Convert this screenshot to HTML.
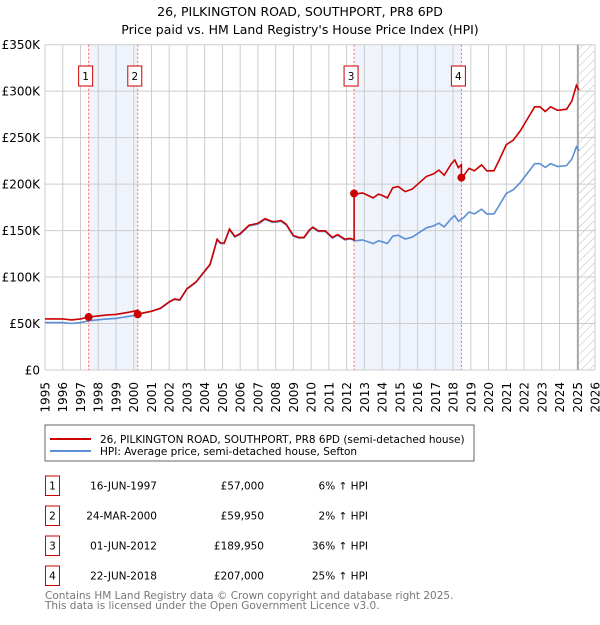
<!DOCTYPE html>
<html><head><meta charset="utf-8"><style>
body{margin:0;background:#fff;font-family:"Liberation Sans","DejaVu Sans",sans-serif;}
svg text{font-family:"DejaVu Sans","Liberation Sans",sans-serif;}
</style></head><body>
<svg id="c" width="600" height="620" viewBox="0 0 600 620" xmlns="http://www.w3.org/2000/svg">
<defs><pattern id="hatch" width="6" height="6" patternUnits="userSpaceOnUse" patternTransform="rotate(45)"><line x1="0" y1="0" x2="0" y2="6" stroke="#bbb" stroke-width="1"/></pattern></defs>
<text x="300" y="16" text-anchor="middle" font-size="12.5" fill="#000">26, PILKINGTON ROAD, SOUTHPORT, PR8 6PD</text>
<text x="300" y="34" text-anchor="middle" font-size="12.5" fill="#000">Price paid vs. HM Land Registry's House Price Index (HPI)</text>
<g id="plot"></g>
<rect x="45" y="425" width="429" height="36" fill="#fff" stroke="#666"/>
<line x1="50" y1="439" x2="91" y2="439" stroke="#cc0000" stroke-width="2"/>
<text x="100" y="443" font-size="10.5">26, PILKINGTON ROAD, SOUTHPORT, PR8 6PD (semi-detached house)</text>
<line x1="50" y1="451" x2="91" y2="451" stroke="#5b8fd6" stroke-width="2"/>
<text x="100" y="455" font-size="10.5">HPI: Average price, semi-detached house, Sefton</text>
<g id="table"></g>
<text x="45" y="599" font-size="10.5" fill="#777">Contains HM Land Registry data © Crown copyright and database right 2025.</text>
<text x="45" y="609" font-size="10.5" fill="#777">This data is licensed under the Open Government Licence v3.0.</text>
</svg>
<script>
const hpiDates=[1995.0,1995.5,1996.0,1996.5,1997.0,1997.5,1998.0,1998.5,1999.0,1999.5,2000.0,2000.5,2001.0,2001.5,2002.0,2002.3,2002.6,2003.0,2003.5,2004.0,2004.3,2004.5,2004.7,2004.9,2005.1,2005.4,2005.7,2006.0,2006.5,2007.0,2007.4,2007.8,2008.0,2008.3,2008.6,2009.0,2009.3,2009.6,2009.9,2010.1,2010.4,2010.8,2011.2,2011.5,2011.9,2012.2,2012.5,2012.9,2013.2,2013.5,2013.8,2014.0,2014.3,2014.6,2014.9,2015.3,2015.7,2016.1,2016.5,2016.9,2017.2,2017.5,2017.9,2018.1,2018.3,2018.6,2018.9,2019.2,2019.6,2019.9,2020.3,2020.6,2021.0,2021.4,2021.8,2022.2,2022.6,2022.9,2023.2,2023.5,2023.9,2024.4,2024.7,2024.95,2025.1];
const hpiValues=[51,51,51,50,51,53,54,55,55.5,57,58.5,61,63,66,73,76,75,87,94,106,113,126,140,136,136,151,143,146,155,157,162,159,159,160,156,144,142,142,150,153,149,149,142,145,140,141,139,140,138,136,139,138,136,144,145,141,143,148,153,155,158,154,163,166,160,164,170,168,173,168,168,177,190,194,202,212,222,222,218,222,219,220,227,240,236];
const saleDates=[1997.46,2000.23,2012.42,2018.47];
const salePrices=[57000,59950,189950,207000];
const saleLabels=["16-JUN-1997","24-MAR-2000","01-JUN-2012","22-JUN-2018"];
const salePriceText=["£57,000","£59,950","£189,950","£207,000"];
const salePctText=["6% ↑ HPI","2% ↑ HPI","36% ↑ HPI","25% ↑ HPI"];
const yTicks=[0,50,100,150,200,250,300,350];
const yTickLabels=["£0","£50K","£100K","£150K","£200K","£250K","£300K","£350K"];
const xYears=[1995,1996,1997,1998,1999,2000,2001,2002,2003,2004,2005,2006,2007,2008,2009,2010,2011,2012,2013,2014,2015,2016,2017,2018,2019,2020,2021,2022,2023,2024,2025,2026];

const NS="http://www.w3.org/2000/svg";
const X0=45,X1=595,Y0=370,Y1=44.7;
const sx=t=>X0+(t-1995)*(X1-X0)/31;
const sy=v=>Y0-v*(Y0-Y1)/350;
const plot=document.getElementById('plot');
function mk(tag,attrs,parent){const e=document.createElementNS(NS,tag);for(const k in attrs)e.setAttribute(k,attrs[k]);(parent||plot).appendChild(e);return e;}
function hpiAt(t){for(let i=1;i<hpiDates.length;i++){if(t<=hpiDates[i]){const f=(t-hpiDates[i-1])/(hpiDates[i]-hpiDates[i-1]);return hpiValues[i-1]+f*(hpiValues[i]-hpiValues[i-1]);}}return hpiValues[hpiValues.length-1];}

let bg=mk('rect',{x:X0,y:Y1,width:X1-X0,height:Y0-Y1,fill:'#fff'});

[[0,1],[2,3]].forEach((p,i)=>{const r=mk('rect',{x:sx(saleDates[p[0]]),y:Y1,width:sx(saleDates[p[1]])-sx(saleDates[p[0]]),height:Y0-Y1,fill:'#eef3fc'});
});
const hx=sx(2025.1);
let h=mk('rect',{x:hx,y:Y1,width:X1-hx,height:Y0-Y1,fill:'url(#hatch)'});

xYears.forEach(y=>{const l=mk('line',{x1:sx(y),x2:sx(y),y1:Y1,y2:Y0,stroke:'#cccccc','stroke-width':1});

const t=mk('text',{x:0,y:0,'font-size':12,'text-anchor':'end',transform:`translate(${sx(y)+4.5},${Y0+12}) rotate(-90)`});
t.textContent=y;});
yTicks.forEach((v,i)=>{const l=mk('line',{x1:X0,x2:X1,y1:sy(v),y2:sy(v),stroke:'#cccccc','stroke-width':1});

const t=mk('text',{x:40,y:sy(v)+4.5,'font-size':12,'text-anchor':'end'});
t.textContent=yTickLabels[i];});
let nl=mk('line',{x1:hx-1,x2:hx-1,y1:Y1,y2:Y0,stroke:'#888','stroke-width':1.2});

saleDates.forEach((d,i)=>{const l=mk('line',{x1:sx(d),x2:sx(d),y1:Y1,y2:Y0,stroke:'#ff6666','stroke-width':1,'stroke-dasharray':'2,2'});

const b=mk('rect',{x:sx(d)-10,y:66,width:14,height:20,fill:'#fff',stroke:'#cc0000'});

const t=mk('text',{x:sx(d)-3,y:80,'font-size':10.5,'text-anchor':'middle'});t.textContent=i+1;
});
let dH=hpiDates.map((t,i)=>(i?'L':'M')+sx(t).toFixed(1)+','+sy(hpiValues[i]).toFixed(1)).join('');
let hp=mk('path',{d:dH,fill:'none',stroke:'#5b8fd6','stroke-width':1.6});

function factorAt(t){let k=0;for(let i=0;i<saleDates.length;i++)if(t>=saleDates[i])k=i;return salePrices[k]/1000/hpiAt(saleDates[k]);}
let pts=[];const all=hpiDates.concat(saleDates).sort((a,b)=>a-b);
all.forEach(t=>{const si=saleDates.indexOf(t);if(si>0){pts.push([t,hpiAt(t)*factorAt(t-0.0001)]);}pts.push([t,hpiAt(t)*factorAt(t)]);});
let dP=pts.map((p,i)=>(i?'L':'M')+sx(p[0]).toFixed(1)+','+sy(p[1]).toFixed(1)).join('');
let pp=mk('path',{d:dP,fill:'none',stroke:'#cc0000','stroke-width':1.6});

saleDates.forEach((d,i)=>{const c=mk('circle',{cx:sx(d),cy:sy(salePrices[i]/1000),r:4,fill:'#cc0000'});
});
const tb=document.getElementById('table');
saleDates.forEach((d,i)=>{const y=476+i*30;
const b=mk('rect',{x:45.5,y:y,width:14,height:19.5,fill:'#fff',stroke:'#cc0000'},tb);

const cols=[[52.5,'middle',String(i+1),'table-index'],[157,'end',saleLabels[i],'table-date'],[264,'end',salePriceText[i],'table-price'],[368,'end',salePctText[i],'table-hpi-change']];
cols.forEach(c=>{const t=mk('text',{x:c[0],y:y+13.5,'font-size':10.5,'text-anchor':c[1]},tb);t.textContent=c[2];
});});
</script>
</body></html>
